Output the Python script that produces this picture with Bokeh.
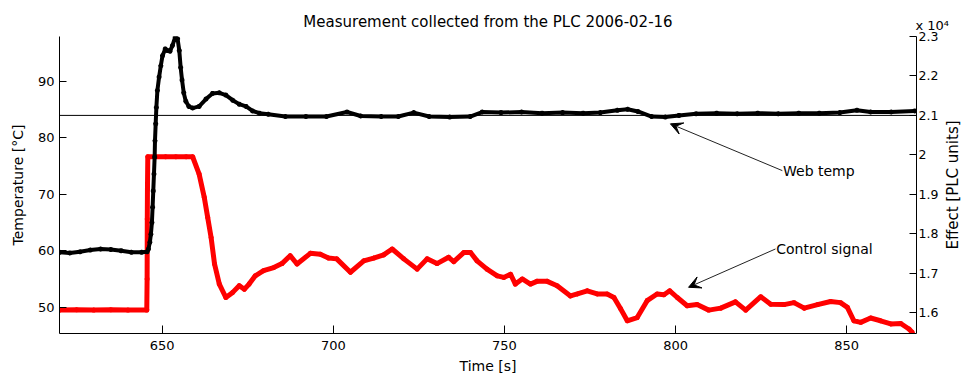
import math
from bokeh.plotting import figure
from bokeh.models import (Range1d, LinearAxis, FixedTicker, Span, Arrow, VeeHead,
                          Label, ColumnDataSource)
from bokeh.embed import file_html
from bokeh.resources import INLINE

# ---------------- data ----------------
web_time = [620, 623, 626, 629, 632, 635, 638, 641, 644, 645.6,
            646.0, 646.4, 646.7, 647.0, 647.2, 647.4, 647.6, 647.8, 647.9, 648.1,
            648.3, 648.6, 649.1, 649.6, 650.1, 650.9, 651.6, 652.3, 653.0, 653.8,
            654.5, 655.0, 655.4, 655.8, 656.3, 656.9, 657.8, 658.9, 660.8, 662.8,
            664.7, 666.7, 668.6, 670.6, 672.5, 674.5, 676.4, 678.4, 681, 686,
            692, 698, 704, 708, 714, 719, 723.5, 728, 734, 740,
            743.5, 749, 755, 761, 767, 773, 778, 783, 786, 789,
            793, 797, 801, 806, 812, 818, 824, 830, 836, 842,
            848, 853, 857, 863, 869.9]
web_temp = [59.7, 59.6, 59.8, 60.1, 60.3, 60.2, 60.0, 59.7, 59.7, 59.8,
            60.3, 61.5, 62.9, 65.0, 67.7, 70.6, 73.6, 76.6, 79.5, 82.5,
            85.4, 88.4, 90.8, 92.8, 94.6, 95.8, 95.5, 95.4, 96.4, 97.9,
            97.6, 95.5, 92.5, 90.3, 88.0, 86.5, 85.6, 85.3, 85.6, 86.9,
            87.9, 88.0, 87.6, 86.7, 86.0, 85.6, 84.8, 84.4, 84.2, 83.8,
            83.8, 83.8, 84.6, 83.9, 83.8, 83.8, 84.5, 83.8, 83.7, 83.8,
            84.6, 84.5, 84.6, 84.4, 84.5, 84.4, 84.5, 84.9, 85.1, 84.7,
            83.8, 83.7, 84.0, 84.3, 84.4, 84.3, 84.4, 84.3, 84.4, 84.4,
            84.5, 84.9, 84.6, 84.6, 84.8]

ctrl_time = [620, 625, 630, 635, 640, 645.5,
             645.6, 645.65, 645.7, 645.8, 648, 651, 654, 657, 658.9,
             660.8, 662.3, 663.3, 664.3, 665.3, 666.7, 668.6, 670.6, 672.5, 674.0,
             675.4, 677.2, 679.6, 682.6, 685.0, 687.4, 689.4, 693.3, 696.2, 698.6,
             701.0, 705.0, 708.9, 711.8, 714.7, 717.2, 720.6, 724.5, 727.4, 730.3,
             733.7, 735.2, 738.1, 740.1, 742.0, 744.9, 747.9, 749.8, 751.8, 753.2,
             755.2, 757.6, 759.5, 762.5, 765.4, 769.3, 771.3, 774.2, 777.1, 780.0,
             782.0, 783.9, 785.9, 788.8, 791.7, 794.6, 796.6, 798.3, 800.5, 803.4,
             806.3, 809.7, 813.2, 817.5, 820.5, 824.9, 827.8, 831.7, 834.6, 837.6,
             841.5, 845.3, 848.2, 850.2, 852.1, 854.1, 857.0, 859.9, 862.9, 865.8,
             868.2, 869.2]
ctrl_effect = [16060, 16070, 16060, 16070, 16060, 16060,
               16850, 18370, 19130, 19950, 19950, 19950, 19950, 19950, 19950,
               19510, 18920, 18410, 17900, 17230, 16720, 16380, 16510, 16680, 16590,
               16720, 16930, 17060, 17140, 17240, 17440, 17230, 17500, 17480, 17380,
               17360, 17020, 17310, 17380, 17460, 17610, 17360, 17100, 17360, 17240,
               17400, 17290, 17520, 17520, 17310, 17100, 16930, 16890, 16970, 16720,
               16850, 16720, 16790, 16790, 16680, 16420, 16470, 16550, 16470, 16470,
               16380, 16100, 15790, 15870, 16300, 16470, 16450, 16550, 16380, 16170,
               16200, 16060, 16110, 16270, 16060, 16400, 16210, 16200, 16250, 16110,
               16200, 16280, 16250, 16130, 15790, 15750, 15860, 15790, 15710, 15720,
               15580, 15490]

setpoint = 84.0
x_ticks = [650, 700, 750, 800, 850]
temp_ticks = [50, 60, 70, 80, 90]
effect_ticks = [16000, 17000, 18000, 19000, 20000, 21000, 22000, 23000]
effect_tick_labels = ["1.6", "1.7", "1.8", "1.9", "2", "2.1", "2.2", "2.3"]

title_text = "Measurement collected from the PLC 2006-02-16"
x_label = "Time [s]"
left_label = "Temperature [\u00b0C]"
right_label = "Effect [PLC units]"
exp_text = "x 10\u2074"

FONT = "DejaVu Sans"

# axis limits as in the original
x_lo, x_hi = 620.0, 870.4
t_lo, t_hi = 45.3, 98.0
e_lo, e_hi = 15467.0, 23000.0

# layout (pixels)
W, H = 967, 377
B_LEFT, B_RIGHT, B_TOP, B_BOTTOM = 59, 51, 36, 44
FRAME_W = W - B_LEFT - B_RIGHT
FRAME_H = H - B_TOP - B_BOTTOM

# ---------------- figure ----------------
p = figure(width=W, height=H,
           x_range=Range1d(x_lo, x_hi), y_range=Range1d(t_lo, t_hi),
           output_backend="svg", toolbar_location=None,
           min_border_left=B_LEFT, min_border_right=B_RIGHT,
           min_border_top=B_TOP, min_border_bottom=B_BOTTOM)
p.extra_y_ranges = {"effect": Range1d(e_lo, e_hi)}
p.xgrid.visible = False
p.ygrid.visible = False
p.outline_line_color = None
p.background_fill_color = "white"
p.border_fill_color = "white"
p.title.visible = False

def style_axis(ax, tick_len, tick_font="13px"):
    ax.axis_line_color = "#000000"
    ax.major_tick_line_color = "#000000"
    ax.major_tick_in = tick_len
    ax.major_tick_out = 0
    ax.minor_tick_in = 0
    ax.minor_tick_out = 0
    ax.minor_tick_line_color = None
    ax.major_label_text_font = FONT
    ax.major_label_text_font_size = tick_font
    ax.major_label_text_color = "#000000"
    ax.axis_label_text_font = FONT
    ax.axis_label_text_font_size = "14px"
    ax.axis_label_text_font_style = "normal"
    ax.axis_label_text_color = "#000000"

xa = p.xaxis[0]
style_axis(xa, 8)
xa.ticker = FixedTicker(ticks=x_ticks)
xa.axis_label = x_label
xa.major_label_standoff = 7
xa.axis_label_standoff = 5

ya = p.yaxis[0]
style_axis(ya, 7)
ya.ticker = FixedTicker(ticks=temp_ticks)
ya.axis_label = left_label
ya.major_label_standoff = 5
ya.axis_label_standoff = 9

ra = LinearAxis(y_range_name="effect")
style_axis(ra, 7, "12.5px")
ra.ticker = FixedTicker(ticks=effect_ticks)
ra.major_label_overrides = {t: s for t, s in zip(effect_ticks, effect_tick_labels)}
ra.major_label_standoff = 2
p.add_layout(ra, "right")

# right axis title, reading upwards, in its own side panel (not clipped to the axes)
p.add_layout(Label(x=11, y=FRAME_H / 2, x_units="screen", y_units="screen",
                   text=right_label, angle=math.pi / 2, text_font=FONT,
                   text_font_size="15px", text_align="center", text_baseline="middle",
                   text_color="#000000"), "right")

# title and exponent of the right axis, in the band above the axes
p.add_layout(Label(x=FRAME_W / 2, y=14.5, x_units="screen", y_units="screen",
                   text=title_text, text_font=FONT, text_font_size="15px",
                   text_baseline="middle", text_align="center",
                   text_color="#000000"), "above")
p.add_layout(Label(x=FRAME_W - 1, y=-7, x_units="screen", y_units="screen",
                   text=exp_text, text_font=FONT, text_font_size="13px",
                   text_baseline="middle", text_align="left",
                   text_color="#000000"), "above")

# setpoint line
p.add_layout(Span(location=setpoint, dimension="width", line_color="#000000",
                  line_width=1, level="underlay"))

ctrl_src = ColumnDataSource(dict(t=ctrl_time, v=ctrl_effect))
web_src = ColumnDataSource(dict(t=web_time, v=web_temp))

p.line("t", "v", source=ctrl_src, y_range_name="effect", line_color="#ff0000",
       line_width=5, line_join="round")
p.scatter("t", "v", source=ctrl_src, y_range_name="effect", marker="asterisk",
          size=5, line_color="#ff0000", line_width=1.5)

p.line("t", "v", source=web_src, line_color="#000000", line_width=4,
       line_join="round")
p.scatter("t", "v", source=web_src, marker="asterisk", size=5,
          line_color="#000000", line_width=1.5)

# annotations
p.add_layout(Arrow(end=VeeHead(size=12, fill_color="#000000", line_color="#000000"),
                   x_start=831.2, y_start=74.2, x_end=798.5, y_end=82.5,
                   line_color="#222222", line_width=1))
p.add_layout(Label(x=831.4, y=74.2, text="Web temp", text_font=FONT,
                   text_font_size="14px", text_baseline="middle", text_align="left",
                   text_color="#000000"))
p.add_layout(Arrow(end=VeeHead(size=12, fill_color="#000000", line_color="#000000"),
                   x_start=829.2, y_start=60.3, x_end=803.8, y_end=53.5,
                   line_color="#222222", line_width=1))
p.add_layout(Label(x=829.4, y=60.3, text="Control signal", text_font=FONT,
                   text_font_size="14px", text_baseline="middle", text_align="left",
                   text_color="#000000"))

open("out.html", "w").write(file_html(p, INLINE))
